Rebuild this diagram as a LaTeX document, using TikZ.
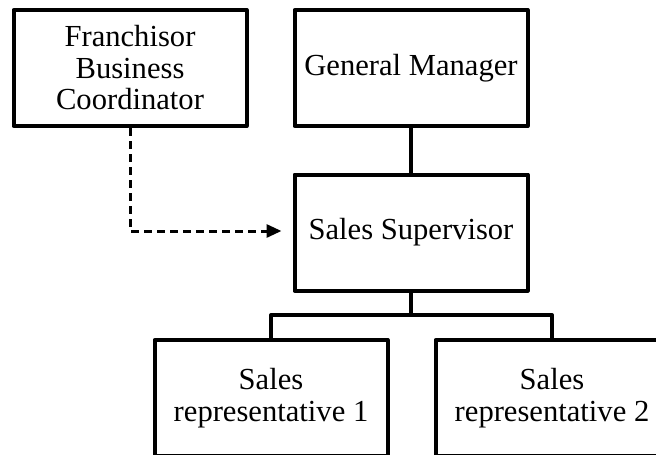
\documentclass[tikz,border=0pt]{standalone}
\usepackage{fontspec}
\setmainfont{Liberation Serif}
\usetikzlibrary{arrows.meta}
\begin{document}
\begin{tikzpicture}[x=1pt,y=-1pt,
  orgbox/.style={draw=black, line width=4pt, line join=round, minimum width=233pt, minimum height=116pt, inner sep=0pt, align=center, font=\fontsize{30.6}{31.5}\selectfont},
  solidlink/.style={line width=4pt, line join=round},
  dashlink/.style={line width=3pt, dash pattern=on 8pt off 5pt, -{Triangle[length=15pt,width=13pt]}, shorten >=11pt}]
\useasboundingbox (0,0) rectangle (656,455);
\node[orgbox] (fbc) at (130,68) {Franchisor\\Business\\Coordinator};
\node[orgbox] (gm) at (411,68) {General Manager};
\node[orgbox] (ss) at (411,232.5) {Sales Supervisor};
\node[orgbox] (sr1) at (271,398) {Sales\\representative 1};
\node[orgbox] (sr2) at (552,398) {Sales\\representative 2};
\coordinate (bend) at (130,231);
\coordinate (split) at (411,315);
\draw[solidlink] (gm.south) -- (ss.north);
\draw[solidlink] (ss.south) -- (split) -| (sr1.north);
\draw[solidlink] (split) -| (sr2.north);
\draw[dashlink] (fbc.south) -- (bend) -- (bend -| ss.west);
\end{tikzpicture}
\end{document}
